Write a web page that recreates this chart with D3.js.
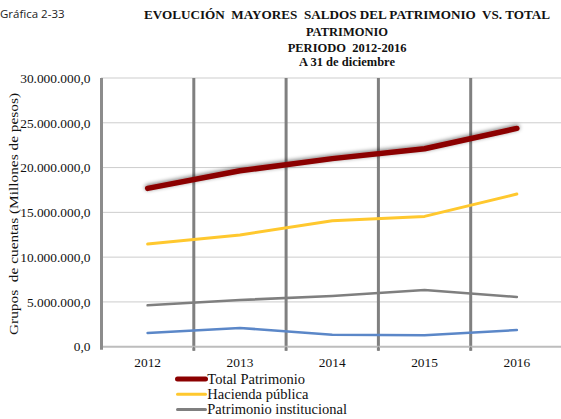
<!DOCTYPE html>
<html>
<head>
<meta charset="utf-8">
<script src="https://cdn.jsdelivr.net/npm/d3@7"></script>
<style>
  body { margin: 0; background: white; }
  svg { display: block; }
  .Serif { font-family: 'Liberation Serif', serif; fill: #111; }
  .Sans { font-family: 'Open Sans', 'Liberation Sans', sans-serif; fill: #222; }
</style>
</head>
<body>
<div id="ChartContainer"></div>
<script>
const Years = ['2012', '2013', '2014', '2015', '2016'];
const TotalPatrimonio = [17680000, 19640000, 21000000, 22100000, 24370000];
const HaciendaPublica = [11460000, 12470000, 14060000, 14550000, 17040000];
const PatrimonioInstitucional = [4620000, 5210000, 5660000, 6330000, 5550000];
const ResultadosEjercicio = [1530000, 2090000, 1340000, 1270000, 1860000];
const YTicks = [0, 5000000, 10000000, 15000000, 20000000, 25000000, 30000000];
const TitleLines = ['EVOLUCIÓN  MAYORES  SALDOS DEL PATRIMONIO  VS. TOTAL', 'PATRIMONIO', 'PERIODO  2012-2016', 'A 31 de diciembre'];

const SeriesList = [
    { Name: 'Resultados del ejercicio', Values: ResultadosEjercicio, Color: '#5B87C8', Width: 2.6 },
    { Name: 'Patrimonio institucional', Values: PatrimonioInstitucional, Color: '#7F7F7F', Width: 2.6 },
    { Name: 'Hacienda pública', Values: HaciendaPublica, Color: '#FFC82E', Width: 3 },
    { Name: 'Total Patrimonio', Values: TotalPatrimonio, Color: '#8B0000', Width: 5.5, Shadow: true }
];
// the fourth legend entry falls below the picture in the reference, so only three are drawn
const LegendOrder = ['Total Patrimonio', 'Hacienda pública', 'Patrimonio institucional'];

function FormatNumber(Value)
{
    return Math.round(Value).toString().replace(/\B(?=(\d{3})+(?!\d))/g, '.') + ',0';
}

function DrawChart()
{
    const Width = 561, Height = 419;
    const Plot = { left: 101.5, right: 563, top: 78, bottom: 346.7 };
    const Svg = d3.select('#ChartContainer')
                  .append('svg')
                  .attr('width', Width)
                  .attr('height', Height);

    const Filter = Svg.append('defs')
                      .append('filter')
                      .attr('id', 'LineShadow')
                      .attr('x', '-10%').attr('y', '-50%')
                      .attr('width', '120%').attr('height', '200%');
    Filter.append('feGaussianBlur').attr('in', 'SourceAlpha').attr('stdDeviation', 2.2).attr('result', 'Blur');
    Filter.append('feOffset').attr('in', 'Blur').attr('dx', 0).attr('dy', -1.5).attr('result', 'Offset');
    Filter.append('feComponentTransfer').attr('in', 'Offset').attr('result', 'Faded')
          .append('feFuncA').attr('type', 'linear').attr('slope', 0.55);
    const Merge = Filter.append('feMerge');
    Merge.append('feMergeNode').attr('in', 'Faded');
    Merge.append('feMergeNode').attr('in', 'SourceGraphic');

    const xScale = d3.scaleBand()
                     .domain(Years)
                     .range([Plot.left, Plot.right]);
    const yScale = d3.scaleLinear()
                     .domain([0, 30000000])
                     .range([Plot.bottom, Plot.top]);

    Svg.append('text')
       .attr('class', 'Sans')
       .attr('x', 0).attr('y', 18)
       .style('font-size', '11.5px')
       .text('Gráfica 2-33');

    const TitleY = [19, 35.5, 51.5, 66];
    TitleLines.forEach((Line, i) =>
    {
        const T = Svg.append('text')
                     .attr('class', 'Serif')
                     .attr('x', 347)
                     .attr('y', TitleY[i])
                     .attr('text-anchor', 'middle')
                     .style('font-weight', 'bold')
                     .style('font-size', '12.5px')
                     .style('white-space', 'pre')
                     .text(Line);
        if (i === 0) T.attr('textLength', 406).attr('lengthAdjust', 'spacingAndGlyphs');
    });

    Svg.append('g')
       .selectAll('line')
       .data(YTicks.filter(d => d > 0))
       .enter()
       .append('line')
       .attr('x1', Plot.left).attr('x2', Width)
       .attr('y1', d => yScale(d)).attr('y2', d => yScale(d))
       .attr('stroke', '#9a9a9a')
       .attr('stroke-width', 1)
       .attr('stroke-dasharray', '1,1');

    const Separators = Years.slice(1).map(y => xScale(y));
    Svg.append('g')
       .selectAll('line')
       .data(Separators)
       .enter()
       .append('line')
       .attr('x1', d => d).attr('x2', d => d)
       .attr('y1', Plot.top).attr('y2', Plot.bottom + 4)
       .attr('stroke', '#808080')
       .attr('stroke-width', 3);

    Svg.append('line')
       .attr('x1', Plot.left).attr('x2', Width)
       .attr('y1', Plot.bottom).attr('y2', Plot.bottom)
       .attr('stroke', '#bdbdbd')
       .attr('stroke-width', 2);
    Svg.append('g')
       .selectAll('line')
       .data(Separators)
       .enter()
       .append('line')
       .attr('x1', d => d).attr('x2', d => d)
       .attr('y1', Plot.bottom).attr('y2', Plot.bottom + 4)
       .attr('stroke', '#808080')
       .attr('stroke-width', 1.5);

    const YAxis = Svg.append('g')
                     .attr('transform', `translate(${Plot.left}, 0)`)
                     .call(d3.axisLeft(yScale).tickValues(YTicks).tickFormat(FormatNumber).tickSize(0).tickPadding(11));
    YAxis.select('.domain').remove();
    YAxis.selectAll('text')
         .attr('class', 'Serif')
         .style('font-size', '13.4px');
    Svg.append('line')
       .attr('x1', Plot.left).attr('x2', Plot.left)
       .attr('y1', Plot.top).attr('y2', Plot.bottom + 3)
       .attr('stroke', '#8c8c8c')
       .attr('stroke-width', 3);

    Svg.append('text')
       .attr('class', 'Serif')
       .attr('transform', `translate(17.5, 214) rotate(-90)`)
       .attr('text-anchor', 'middle')
       .attr('textLength', 242)
       .attr('lengthAdjust', 'spacingAndGlyphs')
       .style('font-size', '13px')
       .style('white-space', 'pre')
       .text('Grupos  de cuentas (Millones de pesos)');

    const XAxis = Svg.append('g')
                     .attr('transform', `translate(0, ${Plot.bottom})`)
                     .call(d3.axisBottom(xScale).tickSize(0).tickPadding(11));
    XAxis.select('.domain').remove();
    XAxis.selectAll('text')
         .attr('class', 'Serif')
         .style('font-size', '13.4px');

    const LineGen = d3.line()
                      .x((d, i) => xScale(Years[i]) + xScale.bandwidth() / 2)
                      .y(d => yScale(d));
    SeriesList.forEach(Series =>
    {
        const P = Svg.append('path')
                     .datum(Series.Values)
                     .attr('d', LineGen)
                     .attr('fill', 'none')
                     .attr('stroke', Series.Color)
                     .attr('stroke-width', Series.Width)
                     .attr('stroke-linecap', 'round')
                     .attr('stroke-linejoin', 'round');
        if (Series.Shadow) P.attr('filter', 'url(#LineShadow)');
    });

    const Legend = Svg.append('g');
    LegendOrder.forEach((Name, i) =>
    {
        const Series = SeriesList.find(s => s.Name === Name);
        const RowY = 379 + i * 15.3;
        Legend.append('line')
              .attr('x1', 177.5).attr('x2', 205.5)
              .attr('y1', RowY).attr('y2', RowY)
              .attr('stroke', Series.Color)
              .attr('stroke-width', Series.Shadow ? 5 : 3)
              .attr('stroke-linecap', 'round');
        Legend.append('text')
              .attr('class', 'Serif')
              .attr('x', 207.3)
              .attr('y', RowY + 4.5)
              .style('font-size', '14.5px')
              .text(Name);
    });
}

document.addEventListener('DOMContentLoaded', DrawChart);
</script>
</body>
</html>
